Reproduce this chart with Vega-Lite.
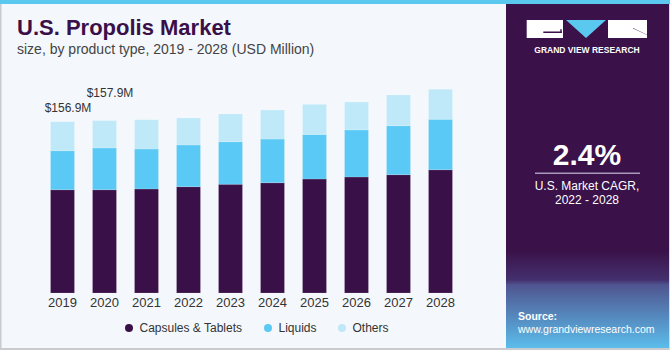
{
  "$schema": "https://vega.github.io/schema/vega-lite/v6.json",
  "background": "#f4f8fc",
  "padding": 0,
  "spacing": 0,
  "config": {"view": {"stroke": null}, "font": "Liberation Sans", "concat": {"spacing": 0}},
  "hconcat": [
    {
      "width": 506,
      "height": 350,
      "layer": [
        {
          "data": {"values": [{}]},
          "mark": {"type": "rect", "x": 0, "x2": 506, "y": 0, "y2": 4, "color": "#5bc8f0"},
          "encoding": {}
        },
        {
          "data": {"values": [{}]},
          "mark": {"type": "rect", "x": 0, "x2": 506, "y": 348, "y2": 350, "color": "#c9cbce"},
          "encoding": {}
        },
        {
          "data": {"values": [{}]},
          "mark": {"type": "rect", "x": 0, "x2": 1.5, "y": 4, "y2": 350, "color": "#c9cbce"},
          "encoding": {}
        },
        {
          "data": {"values": [
            {"year": "2019", "type": "Capsules & Tablets", "value": 94.6},
            {"year": "2019", "type": "Liquids", "value": 35.7},
            {"year": "2019", "type": "Others", "value": 26.6},
            {"year": "2020", "type": "Capsules & Tablets", "value": 94.6},
            {"year": "2020", "type": "Liquids", "value": 38.3},
            {"year": "2020", "type": "Others", "value": 25.0},
            {"year": "2021", "type": "Capsules & Tablets", "value": 95.3},
            {"year": "2021", "type": "Liquids", "value": 36.6},
            {"year": "2021", "type": "Others", "value": 26.8},
            {"year": "2022", "type": "Capsules & Tablets", "value": 97.4},
            {"year": "2022", "type": "Liquids", "value": 38.2},
            {"year": "2022", "type": "Others", "value": 24.7},
            {"year": "2023", "type": "Capsules & Tablets", "value": 99.6},
            {"year": "2023", "type": "Liquids", "value": 39.0},
            {"year": "2023", "type": "Others", "value": 25.4},
            {"year": "2024", "type": "Capsules & Tablets", "value": 101.0},
            {"year": "2024", "type": "Liquids", "value": 40.0},
            {"year": "2024", "type": "Others", "value": 26.6},
            {"year": "2025", "type": "Capsules & Tablets", "value": 104.4},
            {"year": "2025", "type": "Liquids", "value": 40.9},
            {"year": "2025", "type": "Others", "value": 27.5},
            {"year": "2026", "type": "Capsules & Tablets", "value": 106.3},
            {"year": "2026", "type": "Liquids", "value": 43.1},
            {"year": "2026", "type": "Others", "value": 25.6},
            {"year": "2027", "type": "Capsules & Tablets", "value": 108.4},
            {"year": "2027", "type": "Liquids", "value": 44.9},
            {"year": "2027", "type": "Others", "value": 28.1},
            {"year": "2028", "type": "Capsules & Tablets", "value": 112.9},
            {"year": "2028", "type": "Liquids", "value": 46.2},
            {"year": "2028", "type": "Others", "value": 27.5}
          ]},
          "layer": [
            {
              "mark": {"type": "bar", "stroke": "#ffffff", "strokeOpacity": 0.25, "strokeWidth": 0.6},
              "encoding": {
                "x": {"field": "year", "type": "ordinal", "axis": null,
                      "scale": {"range": [41.5, 461.5], "paddingInner": 0.43, "paddingOuter": 0.215}},
                "y": {"field": "value", "type": "quantitative", "stack": "zero", "axis": null,
                      "scale": {"domain": [0, 268.4], "range": [293, 0], "nice": false, "zero": false}},
                "order": {"field": "type", "sort": "ascending"},
                "color": {"field": "type", "type": "nominal",
                          "scale": {"domain": ["Capsules & Tablets", "Liquids", "Others"],
                                    "range": ["#3a1048", "#5bc9f5", "#bfe9f9"]},
                          "legend": {"orient": "none", "legendX": 123, "legendY": 322, "direction": "horizontal",
                                     "title": null, "symbolType": "circle", "symbolSize": 64, "symbolStrokeWidth": 0,
                                     "labelFontSize": 12, "labelColor": "#333333", "labelFont": "Liberation Sans",
                                     "labelOffset": 4.5, "columnPadding": 19, "padding": 0}}
              }
            },
            {
              "transform": [{"filter": "datum.type === 'Capsules & Tablets'"}],
              "mark": {"type": "text", "dy": 10, "baseline": "middle", "fontSize": 13, "color": "#333333"},
              "encoding": {
                "x": {"field": "year", "type": "ordinal"},
                "y": {"datum": 0, "type": "quantitative"},
                "text": {"field": "year"}
              }
            }
          ]
        },
        {
          "data": {"values": [
            {"year": "2019", "total": 156.9, "label": "$156.9M"},
            {"year": "2020", "total": 157.9, "label": "$157.9M"}
          ]},
          "mark": {"type": "text", "dx": 5.5, "dy": {"expr": "datum.year === '2020' ? -24 : -10"},
                   "baseline": "alphabetic", "fontSize": 12, "color": "#333333"},
          "encoding": {
            "x": {"field": "year", "type": "ordinal"},
            "y": {"field": "total", "type": "quantitative"},
            "text": {"field": "label"}
          }
        },
        {
          "data": {"values": [{"t": "U.S. Propolis Market"}]},
          "mark": {"type": "text", "x": 17, "y": 35, "align": "left", "baseline": "alphabetic",
                   "fontSize": 22, "fontWeight": "bold", "color": "#3b1048"},
          "encoding": {"text": {"field": "t"}}
        },
        {
          "data": {"values": [{"t": "size, by product type, 2019 - 2028 (USD Million)"}]},
          "mark": {"type": "text", "x": 17, "y": 54, "align": "left", "baseline": "alphabetic",
                   "fontSize": 14, "color": "#444444"},
          "encoding": {"text": {"field": "t"}}
        }
      ]
    },
    {
      "width": 164,
      "height": 350,
      "view": {"fill": "#3a1148", "stroke": null},
      "layer": [
        {
          "data": {"values": [{}]},
          "mark": {"type": "rect", "x": 0, "x2": 164, "y": 250, "y2": 350,
                   "fill": {"gradient": "linear", "x1": 0, "y1": 0, "x2": 0, "y2": 1,
                            "stops": [{"offset": 0, "color": "#3a1148"}, {"offset": 0.3, "color": "#44306e"},
                                      {"offset": 0.35, "color": "#4f5590"}, {"offset": 1, "color": "#5cc0ee"}]}},
          "encoding": {}
        },
        {
          "data": {"values": [{}]},
          "mark": {"type": "rect", "x": 0, "x2": 164, "y": 0, "y2": 4, "color": "#5bc8f0"},
          "encoding": {}
        },
        {
          "data": {"values": [{}]},
          "mark": {"type": "rect", "x": 0, "x2": 164, "y": 348, "y2": 350, "color": "#c9cbce"},
          "encoding": {}
        },
        {
          "data": {"values": [{}]},
          "mark": {"type": "rect", "x": 163, "x2": 164, "y": 4, "y2": 350, "color": "#d5dbe3"},
          "encoding": {}
        },
        {
          "data": {"values": [{}]},
          "mark": {"type": "rect", "x": 20.7, "x2": 57, "y": 20, "y2": 38, "color": "#ffffff"},
          "encoding": {}
        },
        {
          "data": {"values": [{}]},
          "mark": {"type": "rect", "x": 102, "x2": 141, "y": 20, "y2": 38, "color": "#ffffff"},
          "encoding": {}
        },
        {
          "data": {"values": [{}]},
          "mark": {"type": "rect", "x": 37.3, "x2": 55.7, "y": 31.6, "y2": 33, "color": "#3a1148"},
          "encoding": {}
        },
        {
          "data": {"values": [{}]},
          "mark": {"type": "rect", "x": 54.3, "x2": 55.7, "y": 29.3, "y2": 33, "color": "#3a1148"},
          "encoding": {}
        },
        {
          "data": {"values": [{}]},
          "mark": {"type": "point", "x": 80, "y": 29, "size": 1600, "filled": true, "opacity": 1,
                   "shape": "M-1,-0.45L1,-0.45L0,0.45Z", "color": "#5bc8f0"},
          "encoding": {}
        },
        {
          "data": {"values": [{}]},
          "mark": {"type": "point", "x": 134, "y": 31.6, "size": 196, "filled": true, "opacity": 1,
                   "shape": "M-1,-0.5L1,0.45L1,0.5L-1,-0.45Z", "color": "#3a1148"},
          "encoding": {}
        },
        {
          "data": {"values": [{"t": "GRAND VIEW RESEARCH"}]},
          "mark": {"type": "text", "x": 81, "y": 53.3, "align": "center", "baseline": "alphabetic",
                   "fontSize": 8.5, "fontWeight": "bold", "letterSpacing": 2, "color": "#ffffff"},
          "encoding": {"text": {"field": "t"}}
        },
        {
          "data": {"values": [{"t": "2.4%"}]},
          "mark": {"type": "text", "x": 81, "y": 165, "align": "center", "baseline": "alphabetic",
                   "fontSize": 30, "fontWeight": "bold", "color": "#ffffff"},
          "encoding": {"text": {"field": "t"}}
        },
        {
          "data": {"values": [{}]},
          "mark": {"type": "rect", "x": 29, "x2": 134, "y": 172.5, "y2": 174, "color": "#a898bb"},
          "encoding": {}
        },
        {
          "data": {"values": [{"t": "U.S. Market CAGR,"}]},
          "mark": {"type": "text", "x": 81, "y": 190, "align": "center", "baseline": "alphabetic",
                   "fontSize": 12, "color": "#ffffff"},
          "encoding": {"text": {"field": "t"}}
        },
        {
          "data": {"values": [{"t": "2022 - 2028"}]},
          "mark": {"type": "text", "x": 81, "y": 204, "align": "center", "baseline": "alphabetic",
                   "fontSize": 12, "color": "#ffffff"},
          "encoding": {"text": {"field": "t"}}
        },
        {
          "data": {"values": [{"t": "Source:"}]},
          "mark": {"type": "text", "x": 12, "y": 319.5, "align": "left", "baseline": "alphabetic",
                   "fontSize": 10.5, "fontWeight": "bold", "color": "#ffffff"},
          "encoding": {"text": {"field": "t"}}
        },
        {
          "data": {"values": [{"t": "www.grandviewresearch.com"}]},
          "mark": {"type": "text", "x": 12, "y": 333, "align": "left", "baseline": "alphabetic",
                   "fontSize": 10.5, "color": "#ffffff"},
          "encoding": {"text": {"field": "t"}}
        }
      ]
    }
  ]
}
